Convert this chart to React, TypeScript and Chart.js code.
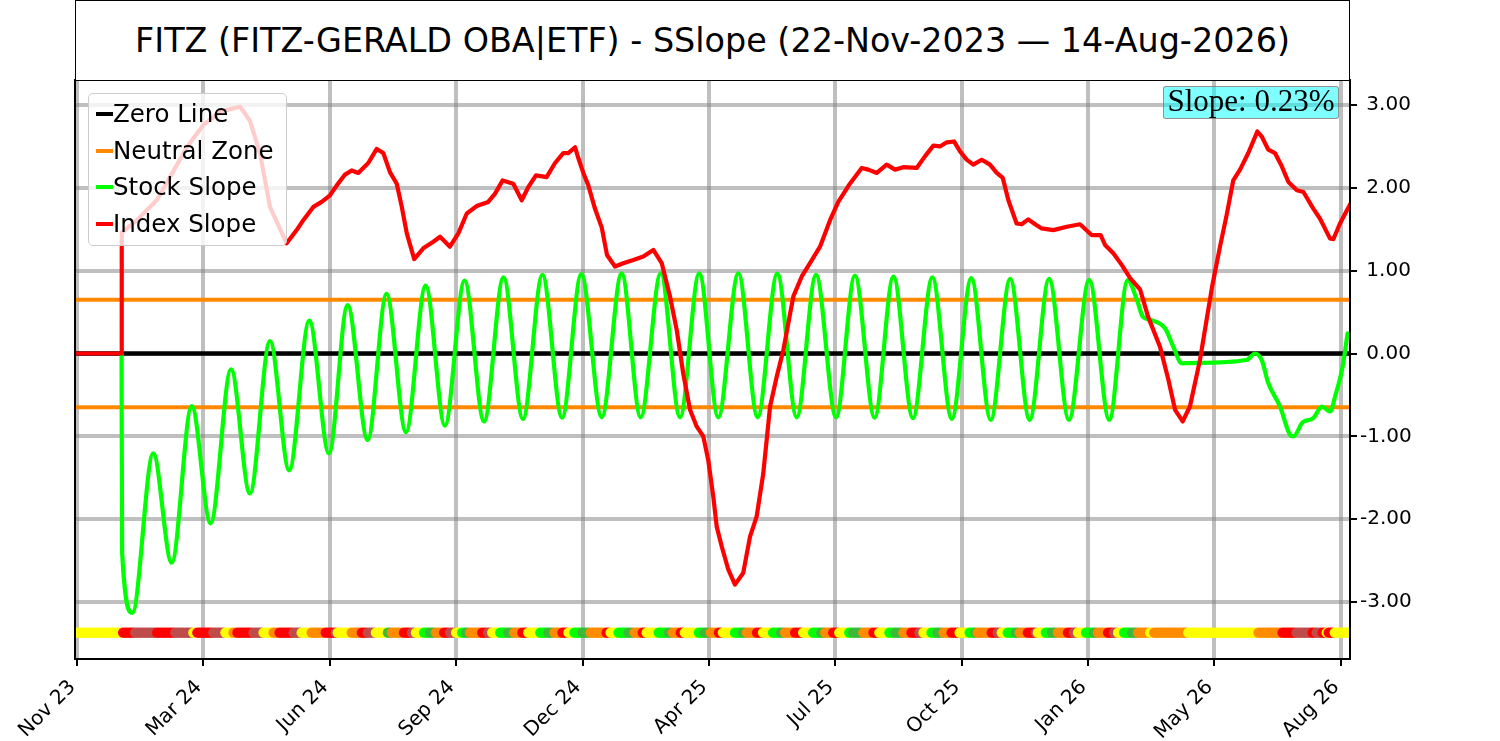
import React, { useEffect, useRef } from 'react';
import { Chart, registerables } from 'chart.js';

Chart.register(...registerables);

// x = trading-day index from the first bar, y = slope in %
const xTickPositions = [1, 64, 127, 190, 253, 316, 379, 442, 505, 568, 631];
const xTickLabels = ['Nov 23', 'Mar 24', 'Jun 24', 'Sep 24', 'Dec 24', 'Apr 25', 'Jul 25', 'Oct 25', 'Jan 26', 'May 26', 'Aug 26'];
const yTickValues = [-3, -2, -1, 0, 1, 2, 3];

const xMin = 0;
const xMax = 635.6;
const neutralLevel = 0.65;
const dotLevel = -3.37;
const lastDay = 635;

const titleText = 'FITZ (FITZ-GERALD OBA|ETF) - SSlope (22-Nov-2023 \u2014 14-Aug-2026)';
const slopeText = 'Slope: 0.23%';

const indexSlope: [number, number][] = [
  [0, 0], [23.3, 0], [23.3, 1.46], [30.8, 1.61], [40.7, 1.85], [47.4, 2.13], [55.7, 2.49],
  [64.0, 2.76], [72.3, 2.92], [82.3, 2.98], [87.2, 2.81], [92.2, 2.42], [97.2, 1.77], [105.5, 1.33],
  [110.5, 1.49], [113.8, 1.61], [118.8, 1.77], [123.0, 1.83], [127.1, 1.91], [130.5, 2.03],
  [134.6, 2.16], [137.9, 2.21], [141.2, 2.18], [146.2, 2.30], [150.4, 2.47], [153.7, 2.42],
  [157.0, 2.19], [160.4, 2.05], [162.9, 1.77], [165.4, 1.45], [169.1, 1.14], [173.6, 1.27],
  [178.6, 1.35], [182.0, 1.41], [186.9, 1.29], [191.1, 1.45], [195.3, 1.69], [200.2, 1.78],
  [206.0, 1.83], [209.4, 1.93], [213.2, 2.09], [218.5, 2.05], [222.7, 1.85], [226.0, 2.01],
  [229.8, 2.15], [235.1, 2.13], [239.3, 2.30], [243.4, 2.42], [245.9, 2.42], [249.3, 2.49],
  [250.9, 2.36], [253.4, 2.18], [255.9, 2.03], [259.2, 1.75], [262.6, 1.52], [265.2, 1.19],
  [269.2, 1.05], [273.3, 1.09], [278.3, 1.13], [283.3, 1.17], [288.3, 1.25], [292.5, 1.09],
  [296.6, 0.69], [300.0, 0.28], [303.2, -0.24], [306.6, -0.68], [309.9, -0.88], [313.2, -1.0],
  [315.7, -1.29], [318.2, -1.73], [319.9, -2.09], [322.4, -2.33], [325.7, -2.61], [329.0, -2.79],
  [333.1, -2.65], [336.5, -2.21], [339.8, -1.97], [343.1, -1.45], [346.5, -0.64], [349.8, -0.28],
  [353.1, 0.04], [358.1, 0.69], [362.3, 0.93], [366.4, 1.09], [371.4, 1.29], [376.4, 1.61],
  [380.5, 1.83], [386.3, 2.05], [392.2, 2.24], [395.5, 2.22], [399.7, 2.18], [404.6, 2.28],
  [408.8, 2.22], [412.9, 2.25], [419.6, 2.24], [423.7, 2.38], [427.9, 2.51], [431.2, 2.50],
  [434.6, 2.55], [438.2, 2.56], [441.2, 2.44], [444.5, 2.34], [447.8, 2.28], [452.0, 2.34],
  [456.1, 2.28], [459.5, 2.18], [462.5, 2.12], [465.3, 1.85], [469.4, 1.57], [471.9, 1.56],
  [475.2, 1.62], [478.6, 1.56], [481.9, 1.51], [487.7, 1.49], [494.4, 1.53], [501.0, 1.56],
  [506.8, 1.43], [511.3, 1.43], [513.5, 1.31], [517.6, 1.21], [521.8, 1.07], [526.0, 0.91],
  [531.0, 0.77], [535.0, 0.44], [540.9, 0.08], [545.1, -0.32], [548.4, -0.68], [552.2, -0.82],
  [555.8, -0.64], [560.8, -0.08], [566.8, 0.8], [570.8, 1.29], [574.1, 1.67], [577.4, 2.09],
  [580.8, 2.22], [584.9, 2.42], [589.4, 2.68], [591.6, 2.62], [594.9, 2.46], [598.2, 2.42],
  [601.6, 2.26], [604.9, 2.07], [609.1, 1.97], [612.4, 1.95], [617.3, 1.75], [620.6, 1.63],
  [625.6, 1.39], [627.3, 1.38], [630.6, 1.57], [635.6, 1.80],
];

const stockSlope: [number, number][] = [
  [23.2, 0], [23.5, -2.41], [28.6, -3.13], [39.0, -1.205], [48.2, -2.525], [58.2, -0.634],
  [67.6, -2.05], [77.8, -0.19], [87.2, -1.69], [97.2, 0.151], [106.8, -1.41], [116.8, 0.396],
  [126.6, -1.205], [135.9, 0.585], [145.9, -1.044], [155.3, 0.72], [165.0, -0.95], [174.8, 0.82],
  [184.4, -0.87], [194.2, 0.88], [203.9, -0.82], [213.6, 0.92], [223.3, -0.79], [233.0, 0.95],
  [242.8, -0.775], [252.4, 0.96], [262.6, -0.77], [272.5, 0.968], [282.0, -0.77], [292.0, 0.968],
  [301.6, -0.77], [311.2, 0.968], [320.7, -0.77], [330.7, 0.968], [340.3, -0.77], [350.1, 0.965],
  [359.8, -0.77], [369.4, 0.95], [379.4, -0.77], [388.8, 0.94], [398.6, -0.775], [408.0, 0.93],
  [417.7, -0.78], [427.4, 0.92], [437.1, -0.79], [446.8, 0.91], [456.5, -0.8], [466.2, 0.9],
  [475.9, -0.8], [485.6, 0.9], [495.5, -0.8], [505.6, 0.89], [515.6, -0.8], [524.8, 0.887],
  [529.4, 0.646], [532.3, 0.445], [536.4, 0.404], [543.4, 0.304], [547.5, 0.082], [551.7, -0.118],
  [555.8, -0.115], [584.1, -0.078], [588.2, 0.0], [591.6, -0.08], [594.9, -0.36], [600.7, -0.64],
  [605.7, -0.98], [607.4, -1.0], [612.0, -0.83], [617.3, -0.78], [621.6, -0.64], [625.6, -0.70],
  [628.6, -0.48], [631.9, -0.16], [634.4, 0.244],
];

// signal strip: [first day of run, state code]
const dotRuns: [number, string][] = [
  [0, 'Y'], [24, 'R'], [30, 'B'], [41, 'R'], [50, 'B'], [59, 'Y'], [61, 'R'], [69, 'B'], [75, 'Y'],
  [79, 'O'], [81, 'R'], [89, 'B'], [94, 'Y'], [99, 'O'], [102, 'R'], [109, 'B'], [113, 'Y'],
  [118, 'O'], [125, 'R'], [130, 'B'], [131, 'Y'], [138, 'O'], [143, 'R'], [146, 'B'], [150, 'Y'],
  [156, 'M'], [158, 'O'], [164, 'R'], [168, 'B'], [170, 'Y'], [174, 'G'], [177, 'M'], [180, 'O'],
  [184, 'R'], [187, 'B'], [190, 'Y'], [193, 'G'], [195, 'M'], [197, 'O'], [203, 'R'], [206, 'B'],
  [208, 'Y'], [212, 'G'], [216, 'M'], [219, 'O'], [223, 'R'], [226, 'Y'], [232, 'G'], [236, 'M'],
  [239, 'O'], [243, 'R'], [246, 'Y'], [249, 'G'], [253, 'M'], [257, 'O'], [265, 'R'], [267, 'Y'],
  [271, 'G'], [276, 'M'], [279, 'O'], [283, 'R'], [285, 'Y'], [291, 'G'], [296, 'M'], [298, 'O'],
  [302, 'R'], [304, 'Y'], [311, 'G'], [314, 'M'], [317, 'O'], [321, 'R'], [323, 'Y'], [329, 'G'],
  [333, 'M'], [335, 'O'], [340, 'R'], [343, 'Y'], [348, 'G'], [352, 'M'], [354, 'O'], [359, 'R'],
  [363, 'Y'], [368, 'G'], [372, 'M'], [374, 'O'], [378, 'R'], [381, 'Y'], [386, 'G'], [388, 'M'],
  [393, 'O'], [398, 'R'], [401, 'Y'], [406, 'G'], [409, 'M'], [413, 'O'], [417, 'R'], [421, 'B'],
  [423, 'Y'], [427, 'G'], [430, 'M'], [433, 'O'], [437, 'R'], [441, 'Y'], [446, 'G'], [449, 'M'],
  [450, 'O'], [457, 'R'], [460, 'B'], [462, 'Y'], [465, 'G'], [469, 'M'], [471, 'O'], [475, 'R'],
  [479, 'B'], [480, 'Y'], [484, 'G'], [487, 'M'], [490, 'O'], [495, 'R'], [498, 'B'], [500, 'Y'],
  [504, 'G'], [508, 'M'], [510, 'O'], [515, 'R'], [518, 'B'], [520, 'Y'], [523, 'G'], [527, 'M'],
  [530, 'O'], [536, 'Y'], [538, 'O'], [555, 'Y'], [590, 'O'], [602, 'R'], [609, 'B'], [617, 'R'],
  [619, 'B'], [622, 'R'], [624, 'Y'], [625, 'R'], [628, 'Y'],
];

const dotColors: Record<string, string> = {
  Y: '#ffff00',
  R: '#ff0000',
  B: '#bf4b4b',
  O: '#ff8c00',
  G: '#00ff00',
  M: '#3cb93c',
};

const legendItems = [
  { label: 'Zero Line', color: '#000000' },
  { label: 'Neutral Zone', color: '#ff8800' },
  { label: 'Stock Slope', color: '#00ff00' },
  { label: 'Index Slope', color: '#ff0000' },
];

const gridColor = 'rgba(128, 128, 128, 0.5)';

// draws the black box round the plot area
const framePlugin = {
  id: 'frame',
  afterDatasetsDraw(chart: Chart) {
    const { ctx, chartArea: a } = chart;
    ctx.save();
    ctx.strokeStyle = '#000';
    ctx.lineWidth = 2;
    ctx.strokeRect(a.left, a.top, a.right - a.left, a.bottom - a.top);
    ctx.restore();
  },
};

const App: React.FC = () => {
  const chartRef = useRef<HTMLCanvasElement>(null);
  const chartInstance = useRef<Chart | null>(null);

  useEffect(() => {
    if (!chartRef.current) return;

    const dots: { x: number; y: number }[] = [];
    const dotFill: string[] = [];
    let run = 0;
    for (let day = 0; day <= lastDay; day++) {
      while (run + 1 < dotRuns.length && dotRuns[run + 1][0] <= day) run++;
      dots.push({ x: day, y: dotLevel });
      dotFill.push(dotColors[dotRuns[run][1]]);
    }

    const flat = (y: number) => [{ x: xMin, y }, { x: xMax, y }];

    if (chartInstance.current) chartInstance.current.destroy();

    chartInstance.current = new Chart(chartRef.current, {
      type: 'line',
      data: {
        datasets: [
          {
            label: 'Signal',
            data: dots,
            showLine: false,
            pointRadius: 5.2,
            pointHoverRadius: 5.2,
            pointBorderWidth: 0,
            pointBackgroundColor: dotFill,
            pointBorderColor: dotFill,
            order: 0,
          },
          {
            label: 'Index Slope',
            data: indexSlope.map(([x, y]) => ({ x, y })),
            borderColor: '#ff0000',
            borderWidth: 4.2,
            pointRadius: 0,
            tension: 0,
            borderJoinStyle: 'round',
            borderCapStyle: 'round',
            order: 1,
          },
          {
            label: 'Stock Slope',
            data: stockSlope.map(([x, y]) => ({ x, y })),
            borderColor: '#00ff00',
            borderWidth: 4.2,
            pointRadius: 0,
            cubicInterpolationMode: 'monotone',
            borderJoinStyle: 'round',
            borderCapStyle: 'round',
            order: 2,
          },
          {
            label: 'Neutral Zone',
            data: flat(neutralLevel),
            borderColor: '#ff8800',
            borderWidth: 4,
            pointRadius: 0,
            order: 3,
          },
          {
            label: 'Neutral Zone Low',
            data: flat(-neutralLevel),
            borderColor: '#ff8800',
            borderWidth: 4,
            pointRadius: 0,
            order: 3,
          },
          {
            label: 'Zero Line',
            data: flat(0),
            borderColor: '#000000',
            borderWidth: 4.5,
            pointRadius: 0,
            order: 4,
          },
        ],
      },
      options: {
        animation: false,
        responsive: false,
        events: [],
        layout: { padding: { left: 75, top: 80, right: 0, bottom: 0 } },
        plugins: {
          legend: { display: false },
          tooltip: { enabled: false },
        },
        scales: {
          x: {
            type: 'linear',
            min: xMin,
            max: xMax,
            afterBuildTicks: (scale: any) => {
              scale.ticks = xTickPositions.map(value => ({ value }));
            },
            afterFit: (scale: any) => {
              scale.height = 82;
            },
            border: { display: false },
            grid: { color: gridColor, lineWidth: 4, tickColor: '#000', tickWidth: 2, tickLength: 7 },
            ticks: {
              autoSkip: false,
              minRotation: 45,
              maxRotation: 45,
              color: '#000',
              padding: 5,
              font: { family: "'DejaVu Sans', sans-serif", size: 20 },
              // trailing space nudges the rotated label away from its tick
              callback: (_value: any, index: number) => xTickLabels[index] + ' ',
            },
          },
          y: {
            type: 'linear',
            position: 'right',
            min: -3.688,
            max: 3.302,
            afterBuildTicks: (scale: any) => {
              scale.ticks = yTickValues.map(value => ({ value }));
            },
            afterFit: (scale: any) => {
              scale.width = 150;
            },
            border: { display: false },
            grid: { color: gridColor, lineWidth: 4, tickColor: '#000', tickWidth: 2, tickLength: 7 },
            ticks: {
              padding: 3,
              color: '#000',
              font: { family: "'DejaVu Sans', sans-serif", size: 20 },
              callback: (value: any) => (Number(value) < 0 ? '' : ' ') + Number(value).toFixed(2),
            },
          },
        },
      } as any,
      plugins: [framePlugin],
    });

    return () => {
      if (chartInstance.current) {
        chartInstance.current.destroy();
        chartInstance.current = null;
      }
    };
  }, []);

  return (
    <div style={{ position: 'absolute', left: 0, top: 0, width: 1500, height: 741, background: '#fff', fontFamily: "'DejaVu Sans', sans-serif" }}>
      <canvas ref={chartRef} width={1500} height={741} style={{ position: 'absolute', left: 0, top: 0 }} />
      <div
        style={{
          position: 'absolute', left: 75, top: 0, width: 1275, height: 81, boxSizing: 'border-box',
          border: '1.5px solid #000', display: 'flex', alignItems: 'center', justifyContent: 'center',
          fontSize: 33.4, color: '#000', background: '#fff', whiteSpace: 'nowrap',
        }}
      >
        {titleText}
      </div>
      <div
        style={{
          position: 'absolute', left: 88, top: 93, width: 199, height: 153, boxSizing: 'border-box',
          border: '1px solid #cccccc', borderRadius: 5, background: 'rgba(255,255,255,0.8)',
        }}
      >
        {legendItems.map((item, i) => (
          <div
            key={item.label}
            style={{ position: 'absolute', left: 7, top: 2 + i * 36.5, height: 36, display: 'flex', alignItems: 'center', whiteSpace: 'nowrap' }}
          >
            <span style={{ display: 'inline-block', width: 17, height: 4, background: item.color }} />
            <span style={{ fontSize: 24.5, color: '#000', lineHeight: '36px' }}>{item.label}</span>
          </div>
        ))}
      </div>
      <div
        style={{
          position: 'absolute', left: 1163, top: 86, width: 176, height: 33, boxSizing: 'border-box',
          border: '1.5px solid rgba(160,70,70,0.6)', borderRadius: 3, background: 'rgba(0,255,255,0.5)',
          fontFamily: "'Liberation Serif', serif", fontSize: 31, lineHeight: '28px', textAlign: 'center',
          color: '#000', whiteSpace: 'nowrap',
        }}
      >
        {slopeText}
      </div>
    </div>
  );
};

export default App;
